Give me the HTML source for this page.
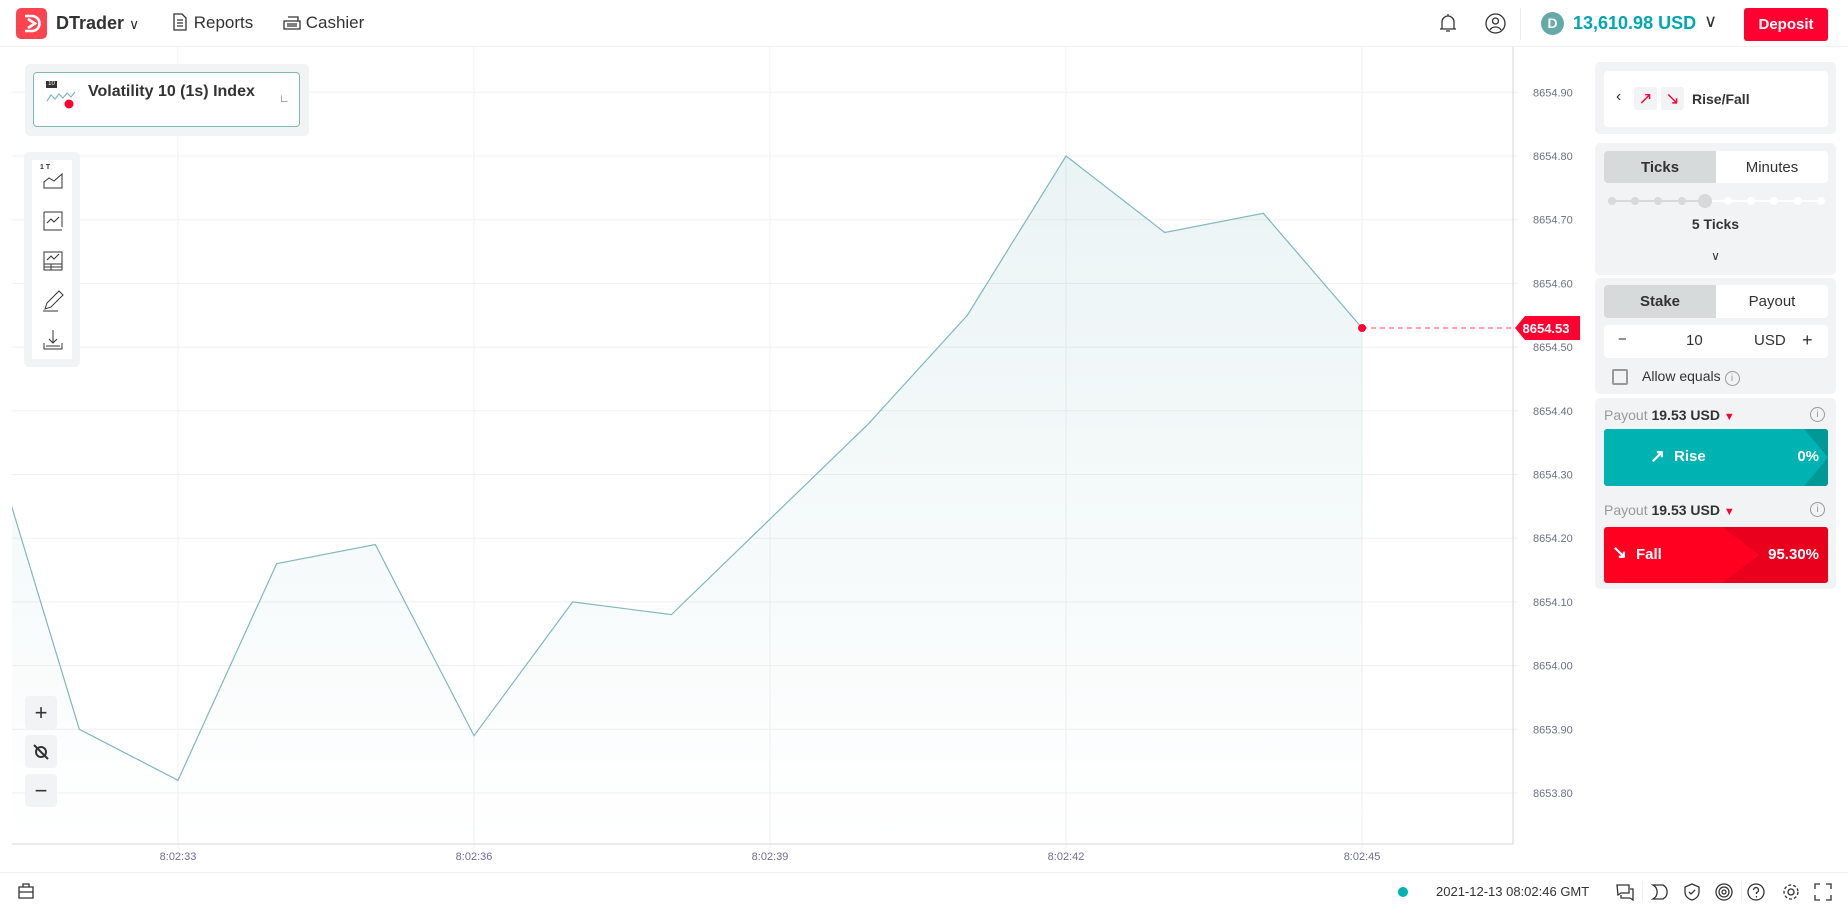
<!DOCTYPE html>
<html><head><meta charset="utf-8">
<style>
*{box-sizing:border-box;margin:0;padding:0}
body{width:1848px;height:908px;overflow:hidden;background:#fff;font-family:"Liberation Sans",sans-serif;color:#333;position:relative}
.abs{position:absolute}
.hdr{left:0;top:0;width:1848px;height:47px;border-bottom:1px solid #f0f0f0}
.card{background:#f2f3f4;border-radius:5px}
.tog{display:flex;background:#fff;border-radius:4px;overflow:hidden}
.tog div{flex:1;display:flex;align-items:center;justify-content:center;font-size:15px;color:#333}
.tog .on{background:#d6dadb;font-weight:bold}
.ic{stroke:#333;fill:none;stroke-width:1.3}
.zb{left:25px;width:32px;height:33px;background:#f2f3f4;border-radius:4px;display:flex;align-items:center;justify-content:center;font-size:22px;color:#333}
</style></head><body>
<div class="abs hdr">
  <div class="abs" style="left:16px;top:8px;width:31px;height:31px;background:#ff444f;border-radius:5px"><svg width="31" height="31"><path d="M9 8 L16 8 A7.5 7.5 0 0 1 16 23 L9 23 M12 11 L19 15.5 L12 20" stroke="#fff" stroke-width="2.6" fill="none"/></svg></div>
  <div class="abs" style="left:56px;top:13px;font-size:18px;font-weight:bold">DTrader <span style="font-weight:normal;font-size:14px">&#8744;</span></div>
  <div class="abs" style="left:171px;top:13px;font-size:17px;color:#333"><svg width="18" height="18" style="vertical-align:-3px" class="ic"><path d="M3 1h8l4 4v12H3z M6 7h6 M6 10h6 M6 13h6"/></svg> Reports</div>
  <div class="abs" style="left:283px;top:13px;font-size:17px;color:#333"><svg width="18" height="18" style="vertical-align:-3px" class="ic"><path d="M1 8h16v8H1z M5 4h10v4 M4 11h10 M4 13h10"/></svg> Cashier</div>
  <svg class="abs ic" style="left:1438px;top:12px" width="20" height="22"><path d="M10 2v2 M4 17V10a6 6 0 0 1 12 0v7 M2 17h16 M8 19h4"/></svg>
  <svg class="abs ic" style="left:1485px;top:13px" width="21" height="21"><circle cx="10.5" cy="10.5" r="9.5"/><circle cx="10.5" cy="8" r="3"/><path d="M5 17a6 5 0 0 1 11 0"/></svg>
  <div class="abs" style="left:1520px;top:8px;width:1px;height:32px;background:#eee"></div>
  <div class="abs" style="left:1541px;top:12px;width:23px;height:23px;border-radius:50%;background:#65aaa6;color:#fff;font-size:14px;font-weight:bold;text-align:center;line-height:23px">D</div>
  <div class="abs" style="left:1573px;top:13px;font-size:18px;font-weight:bold;color:#00a8b0">13,610.98 USD</div>
  <div class="abs" style="left:1704px;top:11px;font-size:18px">&#8744;</div>
  <div class="abs" style="left:1744px;top:8px;width:84px;height:33px;background:#ff0030;border-radius:3px;color:#fff;font-weight:bold;font-size:15px;text-align:center;line-height:33px">Deposit</div>
</div>

<svg class="abs" id="chart" style="left:0;top:47px" width="1590" height="825"></svg>

<div class="abs card" style="left:25px;top:64px;width:284px;height:72px"></div>
<div class="abs" style="left:33px;top:72px;width:267px;height:55px;background:#fff;border:1px solid #7fb6b8;border-radius:4px">
  <div class="abs" style="left:12px;top:8px;width:11px;height:7px;background:#333;color:#fff;font-size:6px;text-align:center;line-height:7px">10</div>
  <svg class="abs" style="left:12px;top:16px" width="30" height="20"><path d="M1 12 L5 6 L9 10 L13 5 L17 9 L21 4 L25 8 L29 3" stroke="#7fb8bd" fill="none" stroke-width="1.2"/><circle cx="23" cy="15" r="4.5" fill="#ff0030"/></svg>
  <div class="abs" style="left:54px;top:10px;font-size:16px;font-weight:bold">Volatility 10 (1s) Index</div>
  <div class="abs" style="left:245px;top:20px;font-size:11px;color:#555">&#8735;</div>
</div>
<div class="abs card" style="left:24px;top:152px;width:56px;height:215px">
  <div class="abs" style="left:8px;top:8px;width:40px;height:199px;background:#fff"></div>
  <div class="abs" style="left:16px;top:12px;font-size:7px;font-weight:bold">1 T</div>
  <svg class="abs ic" style="left:18px;top:18px" width="22" height="20"><path d="M2 18V12l5-4 5 3 8-7v14z" stroke-width="1"/></svg>
  <svg class="abs ic" style="left:18px;top:58px" width="22" height="22"><path d="M2 2v18h18 M2 2h18v15 M5 13l4-4 3 3 5-5" stroke-width="1"/></svg>
  <svg class="abs ic" style="left:18px;top:98px" width="22" height="22"><path d="M2 2h18v18H2z M2 14h18 M2 17h18 M9 14v6 M5 10l4-4 3 3 5-5" stroke-width="1"/></svg>
  <svg class="abs ic" style="left:18px;top:138px" width="22" height="22"><path d="M3 19l2-6 12-12 4 4-12 12z M1 21h15" stroke-width="1"/></svg>
  <svg class="abs ic" style="left:18px;top:177px" width="22" height="22"><path d="M11 1v13 M7 10l4 4 4-4 M2 14v6h18v-6 M4 17h14" stroke-width="1"/></svg>
</div>
<div class="abs zb" style="top:696px">+</div>
<div class="abs zb" style="top:735px"><svg width="18" height="18" class="ic" style="stroke-width:2"><circle cx="9" cy="9" r="5"/><path d="M2 2l14 14"/></svg></div>
<div class="abs zb" style="top:774px">&minus;</div>

<!-- Right trade panel -->
<div class="abs card" style="left:1595px;top:62px;width:241px;height:72px">
  <div class="abs" style="left:9px;top:9px;width:224px;height:56px;background:#fff;border-radius:4px">
    <div class="abs" style="left:12px;top:17px;font-size:16px">&#8249;</div>
    <div class="abs" style="left:30px;top:16px;width:23px;height:23px;background:#f2f3f4;border-radius:3px;color:#ff0030;font-size:17px;text-align:center;line-height:23px">&#8599;</div>
    <div class="abs" style="left:57px;top:16px;width:23px;height:23px;background:#f2f3f4;border-radius:3px;color:#ff0030;font-size:17px;text-align:center;line-height:23px">&#8600;</div>
    <div class="abs" style="left:88px;top:20px;font-size:14px;font-weight:bold">Rise/Fall</div>
  </div>
</div>
<div class="abs card" style="left:1595px;top:143px;width:241px;height:132px">
  <div class="abs tog" style="left:9px;top:8px;width:224px;height:32px"><div class="on">Ticks</div><div>Minutes</div></div>
  <div class="abs" style="left:17px;top:57px;width:209px;height:2px;background:#fff"></div>
  <div class="abs" style="left:17px;top:57px;width:93px;height:2px;background:#d6dadb"></div>
  <div id="dots"></div>
  <div class="abs" style="left:0;width:241px;top:73px;text-align:center;font-size:14px;font-weight:bold">5 Ticks</div>
  <div class="abs" style="left:0;width:241px;top:106px;text-align:center;font-size:12px">&#8744;</div>
</div>
<div class="abs card" style="left:1595px;top:278px;width:241px;height:116px">
  <div class="abs tog" style="left:9px;top:7px;width:224px;height:33px"><div class="on">Stake</div><div>Payout</div></div>
  <div class="abs" style="left:9px;top:47px;width:224px;height:33px;background:#fff;border-radius:4px;font-size:15px">
    <span class="abs" style="left:14px;top:6px">&minus;</span><span class="abs" style="left:82px;top:7px">10</span><span class="abs" style="left:150px;top:7px">USD</span><span class="abs" style="left:198px;top:5px;font-size:18px">+</span>
  </div>
  <div class="abs" style="left:17px;top:91px;width:16px;height:16px;border:2px solid #999;border-radius:2px"></div>
  <div class="abs" style="left:47px;top:90px;font-size:14px">Allow equals <span style="display:inline-block;width:15px;height:15px;border:1px solid #999;border-radius:50%;font-size:10px;text-align:center;line-height:13px;color:#999">i</span></div>
</div>
<div class="abs card" style="left:1595px;top:398px;width:241px;height:191px">
  <div class="abs" style="left:9px;top:9px;font-size:14px;color:#999">Payout <b style="color:#333">19.53 USD</b> <span style="color:#ff0030;font-size:11px">&#9660;</span></div>
  <div class="abs" style="left:215px;top:9px;width:15px;height:15px;border:1px solid #999;border-radius:50%;font-size:10px;text-align:center;line-height:13px;color:#999">i</div>
  <div class="abs" style="left:9px;top:31px;width:224px;height:57px;background:#00b3b3;border-radius:3px;overflow:hidden;color:#fff;font-weight:bold;font-size:15px">
    <div class="abs" style="left:200px;top:0;width:40px;height:57px;background:#009998;clip-path:polygon(0 0,100% 0,100% 100%,0 100%,60% 50%)"></div>
    <span class="abs" style="left:46px;top:17px;font-size:18px">&#8599;</span><span class="abs" style="left:70px;top:19px">Rise</span><span class="abs" style="right:9px;top:19px">0%</span>
  </div>
  <div class="abs" style="left:9px;top:104px;font-size:14px;color:#999">Payout <b style="color:#333">19.53 USD</b> <span style="color:#ff0030;font-size:11px">&#9660;</span></div>
  <div class="abs" style="left:215px;top:104px;width:15px;height:15px;border:1px solid #999;border-radius:50%;font-size:10px;text-align:center;line-height:13px;color:#999">i</div>
  <div class="abs" style="left:9px;top:129px;width:224px;height:56px;background:#ff0020;border-radius:3px;overflow:hidden;color:#fff;font-weight:bold;font-size:15px">
    <div class="abs" style="left:118px;top:0;width:106px;height:56px;background:#e8001d;clip-path:polygon(0 0,100% 0,100% 100%,0 100%,35% 50%)"></div>
    <span class="abs" style="left:8px;top:15px;font-size:18px">&#8600;</span><span class="abs" style="left:32px;top:19px">Fall</span><span class="abs" style="right:9px;top:19px">95.30%</span>
  </div>
</div>

<!-- footer -->
<div class="abs" style="left:0;top:872px;width:1848px;height:36px;border-top:1px solid #f0f0f0">
  <svg class="abs ic" style="left:17px;top:9px" width="18" height="18"><path d="M2 5h14v11H2z M6 5V2h6v3 M2 10h14 M8 10h2"/></svg>
  <div class="abs" style="left:1398px;top:14px;width:10px;height:10px;border-radius:50%;background:#00b3b3"></div>
  <div class="abs" style="left:1436px;top:11px;font-size:13px;color:#333">2021-12-13 08:02:46 GMT</div>
  <svg class="abs ic" style="left:1616px;top:10px" width="18" height="18"><path d="M1 2h12v8H5l-3 2z M5 12v3h9l3 2V6h-3"/></svg>
  <svg class="abs ic" style="left:1650px;top:10px" width="18" height="18"><path d="M3 2a8 8 0 0 1 0 14h10a8 8 0 0 0 0-14z"/></svg>
  <svg class="abs ic" style="left:1683px;top:10px" width="18" height="18"><path d="M9 1l7 3v5c0 4-3 7-7 8-4-1-7-4-7-8V4z M6 9l2 2 4-4"/></svg>
  <svg class="abs ic" style="left:1715px;top:10px" width="18" height="18"><circle cx="9" cy="9" r="8"/><circle cx="9" cy="9" r="5"/><circle cx="9" cy="9" r="2"/></svg>
  <svg class="abs ic" style="left:1747px;top:10px" width="18" height="18"><circle cx="9" cy="9" r="8"/><path d="M6.5 7a2.5 2.5 0 1 1 3 2.5V11 M9.5 13v1.5"/></svg>
  <svg class="abs ic" style="left:1782px;top:10px" width="18" height="18"><circle cx="9" cy="9" r="3"/><circle cx="9" cy="9" r="7" stroke-dasharray="3 2"/></svg>
  <svg class="abs ic" style="left:1814px;top:10px" width="18" height="18"><path d="M1 6V1h5 M12 1h5v5 M17 12v5h-5 M6 17H1v-5"/></svg>
  <div class="abs" style="left:1642px;top:8px;width:1px;height:20px;background:#eee"></div>
  <div class="abs" style="left:1741px;top:8px;width:1px;height:20px;background:#eee"></div>
</div>

<script>
const tickSeconds=[31,32,33,34,35,36,37,38,39,40,41,42,43,44,45];
const prices=[8654.41,8653.90,8653.82,8654.16,8654.19,8653.89,8654.10,8654.08,8654.23,8654.38,8654.55,8654.80,8654.68,8654.71,8654.53];
const yTicks=[8654.90,8654.80,8654.70,8654.60,8654.50,8654.40,8654.30,8654.20,8654.10,8654.00,8653.90,8653.80];
const xTickSeconds=[33,36,39,42,45];
const currentPrice=8654.53;

const OY=47, L=12, R=1513, B=844-OY;
function xs(s){return 178+(s-33)*98.67;}
function ys(v){return 92.3-OY+(8654.90-v)*637;}
const NS='http://www.w3.org/2000/svg';
const svg=document.getElementById('chart');
function mk(t,a){const e=document.createElementNS(NS,t);for(const k in a)e.setAttribute(k,a[k]);svg.appendChild(e);return e;}
const defs=mk('defs',{});
defs.innerHTML='<linearGradient id="fg" x1="0" y1="0" x2="0" y2="1"><stop offset="0" stop-color="#7fb8bd" stop-opacity="0.16"/><stop offset="1" stop-color="#7fb8bd" stop-opacity="0"/></linearGradient><clipPath id="cp"><rect x="'+L+'" y="0" width="'+(R-L)+'" height="'+B+'"/></clipPath>';
yTicks.forEach(v=>{
  const g=mk('line',{x1:L,x2:R+5,y1:ys(v),y2:ys(v),stroke:'#f0f0f0','stroke-width':1});
  
  
  const t=mk('text',{x:1533,y:ys(v)+4,'font-size':11,fill:'#6e6e8a','font-family':'Liberation Sans, sans-serif'});
  t.textContent=v.toFixed(2);
  
  
});
xTickSeconds.forEach(s=>{
  const g=mk('line',{x1:xs(s),x2:xs(s),y1:0,y2:B+5,stroke:'#f0f0f0','stroke-width':1});
  
  
  const t=mk('text',{x:xs(s),y:B+16,'font-size':11,fill:'#6e6e8a','text-anchor':'middle','font-family':'Liberation Sans, sans-serif'});
  t.textContent='8:02:'+s;
  
  
});
const ax=mk('path',{d:'M'+L+' '+B+'H'+R+'V0',stroke:'#d6d6dc',fill:'none'});


const pts=tickSeconds.map((s,i)=>[xs(s),ys(prices[i])]);
const last=pts[pts.length-1];
const area=mk('path',{d:'M'+pts.map(p=>p.join(' ')).join(' L')+' L'+last[0]+' '+B+' L'+pts[0][0]+' '+B+'Z',fill:'url(#fg)','clip-path':'url(#cp)'});


const line=mk('polyline',{points:pts.map(p=>p.join(',')).join(' '),fill:'none',stroke:'#7fb8bd','stroke-width':1.2,'clip-path':'url(#cp)'});


const cy=ys(currentPrice);
const dl=mk('line',{x1:last[0],x2:R,y1:cy,y2:cy,stroke:'#ff6b7f','stroke-dasharray':'5 4','stroke-width':1.3});


const dot=mk('circle',{cx:last[0],cy:cy,r:4,fill:'#ff0030'});


const tag=mk('path',{d:'M'+(R+2)+' '+cy+' L'+(R+12)+' '+(cy-12)+' H1580 V'+(cy+12)+' H'+(R+12)+'Z',fill:'#ff0030'});


const tt=mk('text',{x:1546,y:cy+5,'font-size':13,'font-weight':'bold',fill:'#fff','text-anchor':'middle','font-family':'Liberation Sans, sans-serif'});
tt.textContent=currentPrice.toFixed(2);



const dots=document.getElementById('dots');
for(let i=0;i<10;i++){
  const d=document.createElement('div');
  
  
  const big=i===4, r=big?7:4;
  d.className='abs';
  d.style.cssText='left:'+(17+i*23.2-r)+'px;top:'+(58-r)+'px;width:'+(2*r)+'px;height:'+(2*r)+'px;border-radius:50%;background:'+(i<=4?'#d6dadb':'#fff');
  dots.appendChild(d);
}
</script>
</body></html>
